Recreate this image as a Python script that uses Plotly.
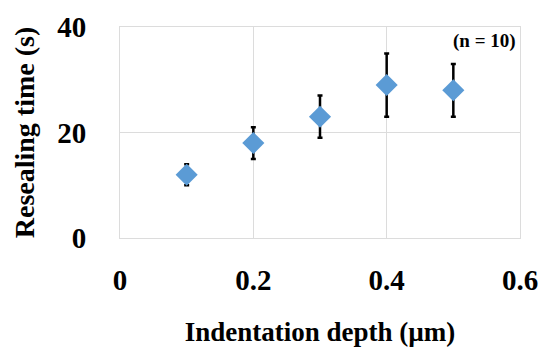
import plotly.graph_objects as go

depth = [0.1, 0.2, 0.3, 0.4, 0.5]
reseal_time = [12, 18, 23, 29, 28]
reseal_err = [2, 3, 4, 6, 5]
x_ticks = [0, 0.2, 0.4, 0.6]
x_tick_text = ["0", "0.2", "0.4", "0.6"]
y_ticks = [0, 20, 40]

FONT = "Liberation Serif"

fig = go.Figure()
fig.add_trace(go.Scatter(
    x=depth, y=reseal_time, mode="markers",
    marker=dict(symbol="diamond", size=17, color="#5B9BD5"),
    error_y=dict(type="data", array=reseal_err, visible=True,
                 color="black", thickness=2.5, width=2.5),
    showlegend=False,
))

fig.update_layout(
    width=544, height=347,
    margin=dict(l=120, r=24, t=27, b=109),
    paper_bgcolor="white", plot_bgcolor="white",
    font=dict(family=FONT, color="black"),
    xaxis=dict(
        range=[0, 0.6], tickvals=x_ticks, ticktext=x_tick_text,
        showgrid=True, gridcolor="#dcdcdc", gridwidth=1,
        showline=True, linecolor="#dcdcdc", mirror=True,
        zeroline=False, ticks="", ticklabelstandoff=16, automargin=False,
        tickfont=dict(family=FONT, size=29, color="black", weight="bold"),
        title=dict(text="<b>Indentation depth (µm)</b>", standoff=27,
                   font=dict(family=FONT, size=27, color="black")),
    ),
    yaxis=dict(
        range=[0, 40], tickvals=y_ticks,
        showgrid=True, gridcolor="#dcdcdc", gridwidth=1,
        showline=True, linecolor="#dcdcdc", mirror=True,
        zeroline=False, ticks="", ticklabelstandoff=27, automargin=False,
        tickfont=dict(family=FONT, size=29, color="black", weight="bold"),
        title=dict(text="<b>Resealing time (s)</b>", standoff=14,
                   font=dict(family=FONT, size=28, color="black")),
    ),
    annotations=[dict(
        text="<b>(n = 10)</b>", xref="paper", yref="paper",
        x=0.995, y=0.995, xanchor="right", yanchor="top", showarrow=False,
        font=dict(family=FONT, size=19, color="black"),
    )],
)

fig.write_html("out.html", config={"displayModeBar": False},
               post_script="document.body.style.margin='0';document.body.style.overflow='hidden';")
